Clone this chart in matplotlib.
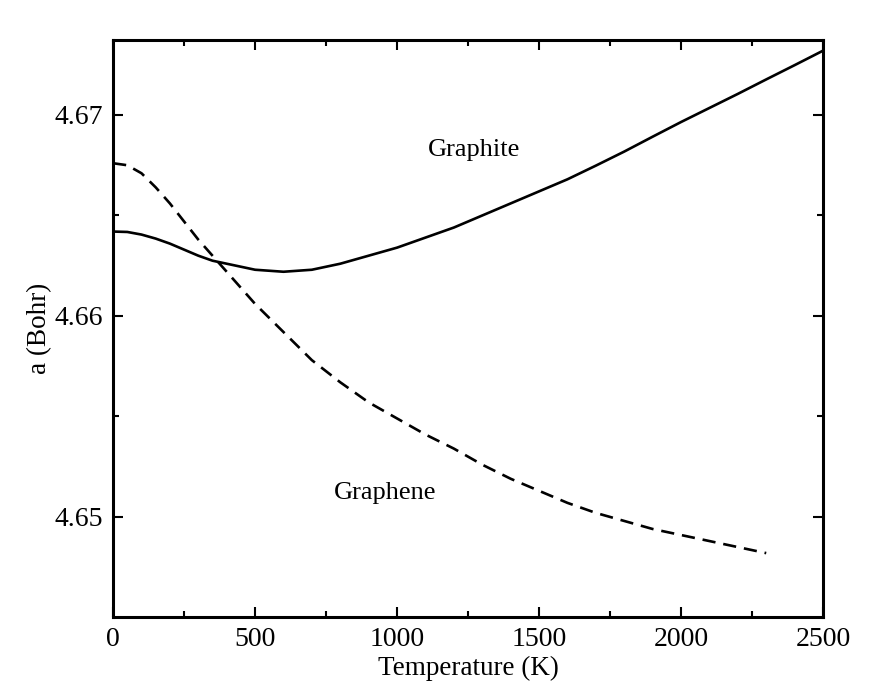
import numpy as np
import matplotlib
matplotlib.use("Agg")
import matplotlib.pyplot as plt
from matplotlib.ticker import MultipleLocator

plt.rcParams["font.family"] = ["Liberation Serif", "DejaVu Serif"]

# temperature (K) and lattice constant a (Bohr)
temp_graphite = [0, 50, 100, 150, 200, 250, 300, 350, 400, 500, 600, 700, 800, 900,
                 1000, 1100, 1200, 1300, 1400, 1500, 1600, 1700, 1800, 1900, 2000,
                 2100, 2200, 2300, 2400, 2500]
a_graphite = [4.6642, 4.66418, 4.66405, 4.66385, 4.6636, 4.6633, 4.6630, 4.66275,
              4.6626, 4.6623, 4.6622, 4.6623, 4.6626, 4.6630, 4.6634, 4.6639, 4.6644,
              4.6650, 4.6656, 4.6662, 4.6668, 4.66748, 4.66818, 4.66892, 4.66965,
              4.67035, 4.67105, 4.67177, 4.67248, 4.6732]

temp_graphene = [0, 50, 100, 150, 200, 250, 300, 350, 400, 500, 600, 700, 800, 900,
                 1000, 1100, 1200, 1300, 1400, 1500, 1600, 1700, 1800, 1900, 2000,
                 2100, 2200, 2300]
a_graphene = [4.6676, 4.6675, 4.6671, 4.6664, 4.6656, 4.6647, 4.6638, 4.6630, 4.6622,
              4.6606, 4.6592, 4.6578, 4.6567, 4.6557, 4.6549, 4.6541, 4.6534, 4.6526,
              4.6519, 4.6513, 4.6507, 4.6502, 4.6498, 4.6494, 4.6491, 4.6488, 4.6485,
              4.6482]

fig = plt.figure(figsize=(8.7, 6.95), dpi=100)
ax = fig.add_axes([0.130, 0.1122, 0.816, 0.8302])

ax.plot(temp_graphite, a_graphite, color="black", lw=1.9)
ax.plot(temp_graphene, a_graphene, color="black", lw=1.9, ls=(0, (5, 3)))

ax.text(1271, 4.66826, "Graphite", fontsize=19, ha="center", va="center")
ax.text(958, 4.65119, "Graphene", fontsize=19, ha="center", va="center")

ax.set_xlim(0, 2500)
ax.set_ylim(4.64502, 4.67373)
ax.xaxis.set_major_locator(MultipleLocator(500))
ax.xaxis.set_minor_locator(MultipleLocator(250))
ax.yaxis.set_major_locator(MultipleLocator(0.01))
ax.yaxis.set_minor_locator(MultipleLocator(0.005))
ax.yaxis.set_major_formatter(matplotlib.ticker.FormatStrFormatter("%.2f"))

ax.tick_params(which="both", direction="in", top=True, right=True, width=1.5,
               labelsize=20)
ax.tick_params(which="major", length=7, pad=7)
ax.tick_params(which="minor", length=4.5)
for s in ax.spines.values():
    s.set_linewidth(2.2)

ax.set_xlabel("Temperature (K)", fontsize=19.5, labelpad=3)
ax.set_ylabel("a (Bohr)", fontsize=19.5, labelpad=2)

fig.savefig("out.png", dpi=100)
